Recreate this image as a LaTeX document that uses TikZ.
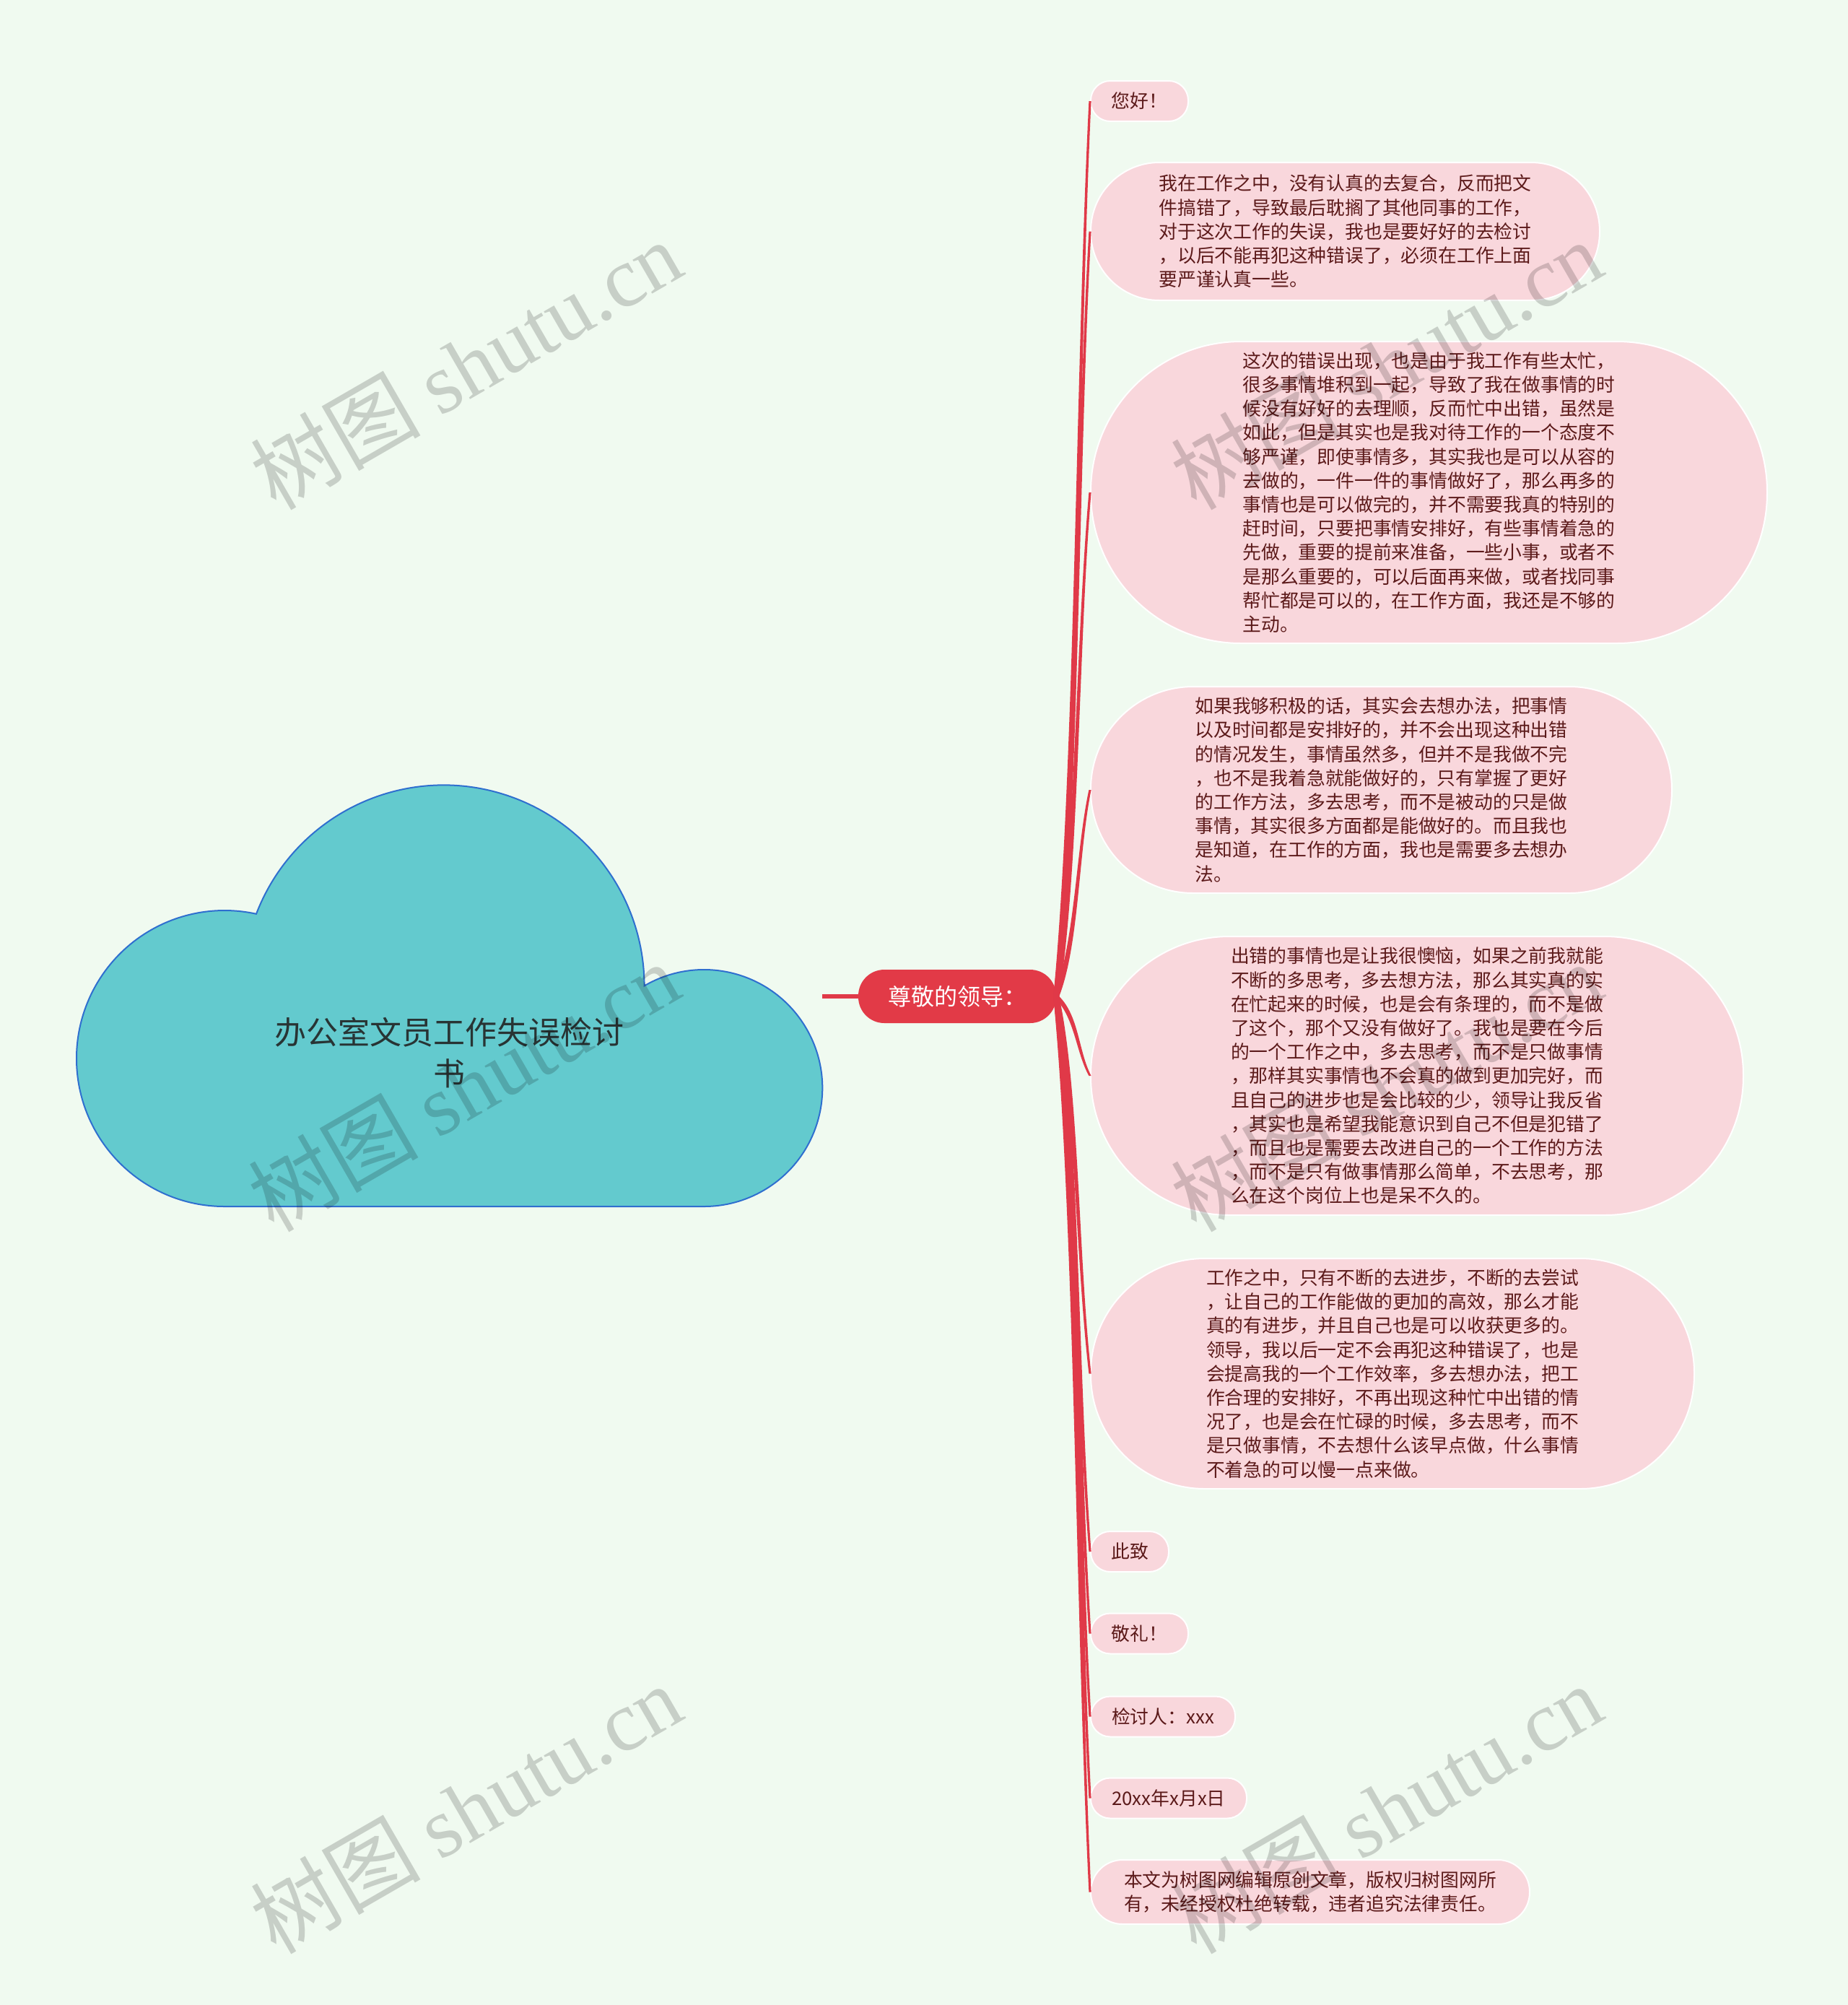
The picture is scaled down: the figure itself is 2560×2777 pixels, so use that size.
\documentclass[tikz,border=0pt]{standalone}
\usepackage{fontspec}
\setmainfont{Noto Sans CJK SC}
\newfontfamily\wmlatin{Liberation Serif}
\definecolor{bgcol}{RGB}{240,250,240}
\definecolor{pinkfill}{RGB}{249,215,220}
\definecolor{txtcol}{RGB}{92,26,26}
\definecolor{redmain}{RGB}{226,58,71}
\definecolor{branchcol}{RGB}{224,57,72}
\definecolor{cloudfill}{RGB}{99,202,206}
\definecolor{cloudline}{RGB}{47,111,207}
\definecolor{titlecol}{RGB}{40,52,52}
% tapered connector from main to #1, control heights #2 and #3
\newcommand\mmconn[3]{%
  \fill[branchcol] ([xshift=-4pt]main.east) .. controls (1489,#2) and (1490,#3) .. ([xshift=-1.6pt]#1.west)
    -- ([xshift=1.6pt]#1.west) .. controls (1494,#3) and (1495,#2) .. ([xshift=4pt]main.east) -- cycle;}
\begin{document}
\begin{tikzpicture}[x=1pt,y=-1pt,
  pill/.style n args={3}{fill=pinkfill, draw=white, line width=2pt, inner sep=0pt,
     text=txtcol, align=left, font=\fontsize{25.8}{33.2}\selectfont,
     minimum width=#1, minimum height=#2, rounded corners=#3},
  mainnode/.style={fill=redmain, inner sep=0pt, text=white,
     font=\fontsize{32}{38}\selectfont, minimum width=274, minimum height=74, rounded corners=36},
  trunk/.style={draw=branchcol, line width=6pt},
  titletext/.style={align=center, text=titlecol, font=\fontsize{44}{57}\selectfont, inner sep=0pt},
  wm/.style={opacity=0.17, text=black, font=\fontsize{118}{118}\selectfont, inner sep=0pt, rotate=30}]
\fill[bgcol] (0,0) rectangle (2560,2777);
\useasboundingbox (0,0) rectangle (2560,2777);

% cloud
\filldraw[fill=cloudfill, draw=cloudline, line width=2pt]
  (311,1671) arc[start angle=270, end angle=77.6, radius=205pt]
  arc[start angle=159, end angle=0, radius=278pt]
  arc[start angle=120.3, end angle=-90, radius=164pt] -- cycle;
\node[inner sep=0pt, minimum width=1029, minimum height=586] (root) at (624.5,1380) {};
\node[titletext] (title) at (622,1458) {办公室文员工作失误检讨\\书};

% main node
\node[mainnode] (main) at (1326,1380) {尊敬的领导：};
\draw[trunk] (root.east) -- (main.west);

% children
\node[pill={135}{56}{27}] (n1) at (1578.5,140) {您好！};
\node[pill={705}{191}{95}] (n2) at (1863.5,320.5) {我在工作之中，没有认真的去复合，反而把文\\件搞错了，导致最后耽搁了其他同事的工作，\\对于这次工作的失误，我也是要好好的去检讨\\，以后不能再犯这种错误了，必须在工作上面\\要严谨认真一些。};
\node[pill={937}{418}{208}] (n3) at (1979.5,682) {这次的错误出现，也是由于我工作有些太忙，\\很多事情堆积到一起，导致了我在做事情的时\\候没有好好的去理顺，反而忙中出错，虽然是\\如此，但是其实也是我对待工作的一个态度不\\够严谨，即使事情多，其实我也是可以从容的\\去做的，一件一件的事情做好了，那么再多的\\事情也是可以做完的，并不需要我真的特别的\\赶时间，只要把事情安排好，有些事情着急的\\先做，重要的提前来准备，一些小事，或者不\\是那么重要的，可以后面再来做，或者找同事\\帮忙都是可以的，在工作方面，我还是不够的\\主动。};
\node[pill={805}{286}{142}] (n4) at (1913.5,1094) {如果我够积极的话，其实会去想办法，把事情\\以及时间都是安排好的，并不会出现这种出错\\的情况发生，事情虽然多，但并不是我做不完\\，也不是我着急就能做好的，只有掌握了更好\\的工作方法，多去思考，而不是被动的只是做\\事情，其实很多方面都是能做好的。而且我也\\是知道，在工作的方面，我也是需要多去想办\\法。};
\node[pill={904}{386}{192}] (n5) at (1963,1490) {出错的事情也是让我很懊恼，如果之前我就能\\不断的多思考，多去想方法，那么其实真的实\\在忙起来的时候，也是会有条理的，而不是做\\了这个，那个又没有做好了。我也是要在今后\\的一个工作之中，多去思考，而不是只做事情\\，那样其实事情也不会真的做到更加完好，而\\且自己的进步也是会比较的少，领导让我反省\\，其实也是希望我能意识到自己不但是犯错了\\，而且也是需要去改进自己的一个工作的方法\\，而不是只有做事情那么简单，不去思考，那\\么在这个岗位上也是呆不久的。};
\node[pill={836}{319}{158}] (n6) at (1929,1902.5) {工作之中，只有不断的去进步，不断的去尝试\\，让自己的工作能做的更加的高效，那么才能\\真的有进步，并且自己也是可以收获更多的。\\领导，我以后一定不会再犯这种错误了，也是\\会提高我的一个工作效率，多去想办法，把工\\作合理的安排好，不再出现这种忙中出错的情\\况了，也是会在忙碌的时候，多去思考，而不\\是只做事情，不去想什么该早点做，什么事情\\不着急的可以慢一点来做。};
\node[pill={108}{56}{27}] (n7) at (1565,2149) {此致};
\node[pill={135}{56}{27}] (n8) at (1578.5,2262.5) {敬礼！};
\node[pill={200}{56}{27}] (n9) at (1611,2377.5) {检讨人：xxx};
\node[pill={216}{56}{27}] (n10) at (1619,2490.5) {20xx年x月x日};
\node[pill={608}{89}{44}] (n11) at (1815,2620.5) {本文为树图网编辑原创文章，版权归树图网所\\有，未经授权杜绝转载，违者追究法律责任。};

% connectors (tapered)
\mmconn{n1}{1070}{512}
\mmconn{n2}{1115}{638.5}
\mmconn{n3}{1205.5}{891.4}
\mmconn{n4}{1308.5}{1179.8}
\mmconn{n5}{1407.5}{1457}
\mmconn{n6}{1510.6}{1745.8}
\mmconn{n7}{1572.3}{1918.3}
\mmconn{n8}{1600.6}{1997.8}
\mmconn{n9}{1629.4}{2078.3}
\mmconn{n10}{1657.6}{2157.4}
\mmconn{n11}{1690.1}{2248.4}

% watermarks
\node[wm] (wm1) at (645,505) {树图 {\wmlatin shutu.cn}};
\node[wm] (wm2) at (642,1505) {树图 {\wmlatin shutu.cn}};
\node[wm] (wm3) at (645,2505) {树图 {\wmlatin shutu.cn}};
\node[wm] (wm4) at (1920,505) {树图 {\wmlatin shutu.cn}};
\node[wm] (wm5) at (1920,1505) {树图 {\wmlatin shutu.cn}};
\node[wm] (wm6) at (1920,2505) {树图 {\wmlatin shutu.cn}};
\end{tikzpicture}
\end{document}
